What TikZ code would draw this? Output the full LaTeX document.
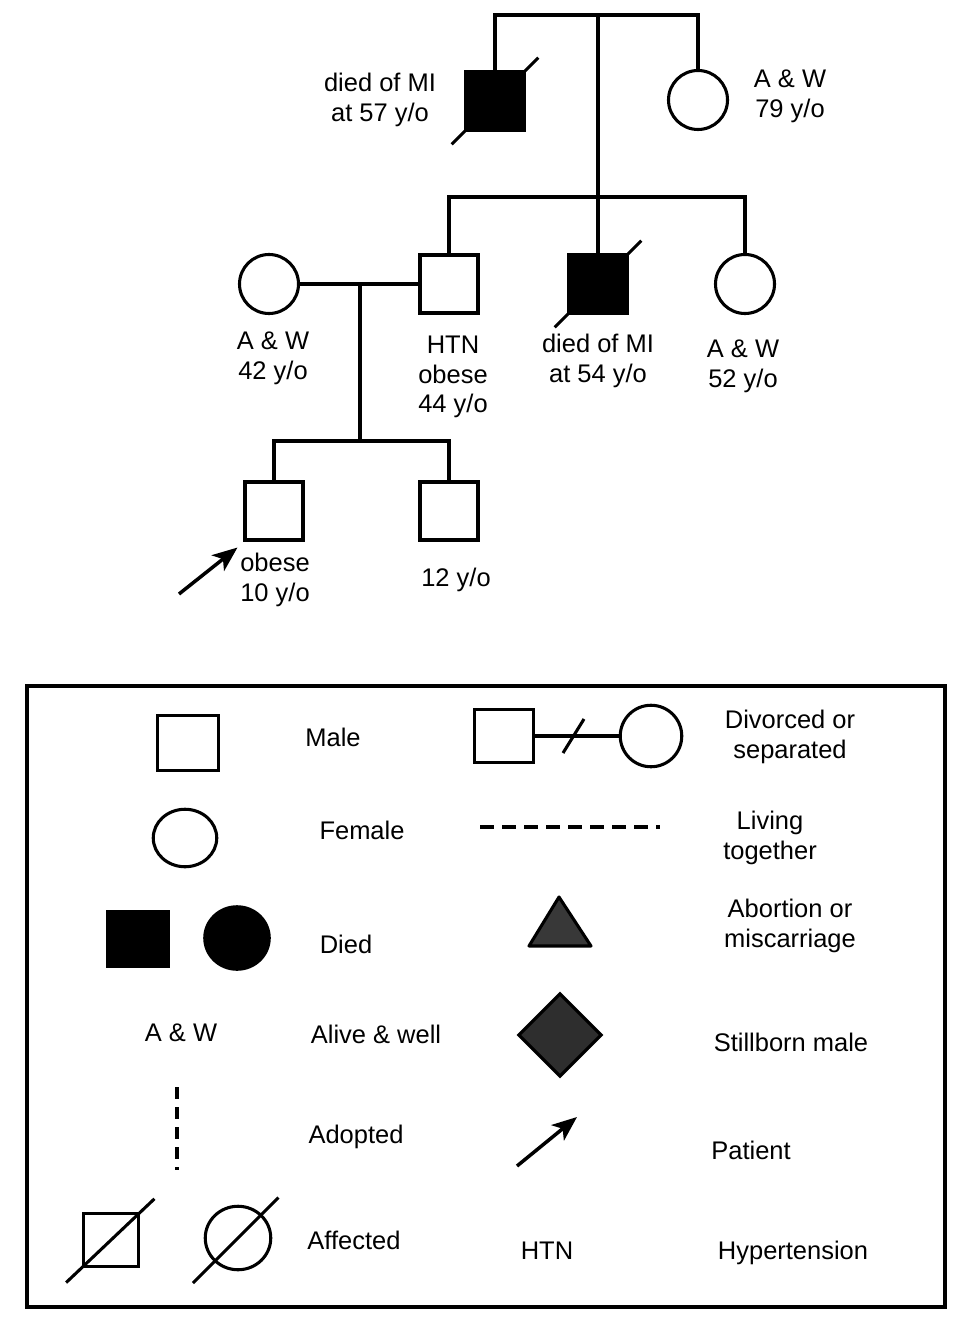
\documentclass[tikz,border=0pt]{standalone}
\usepackage{fontspec}
\setmainfont{Liberation Sans}
\usetikzlibrary{positioning,arrows,arrows.meta,shapes.geometric}

\begin{document}
\begin{tikzpicture}[x=0.2mm,y=-0.2mm,line width=1.75pt,
	every node/.style={font=\fontsize{14.5}{17}\selectfont},
	male/.style={draw,rectangle,minimum size=11.6mm,inner sep=0pt},
	female/.style={draw,ellipse,minimum size=11.8mm,inner sep=0pt},
	dead/.style={fill=black},
	txt/.style={align=center,inner sep=0pt},
	slash/.style={shorten <=-3.6mm,shorten >=-3.6mm},
	pointer/.style={line width=2pt,-{Stealth[length=5mm,width=4mm,inset=1.3mm]}}]
	\useasboundingbox (0,0) rectangle (958,1320);
	\node[male,dead] (gf) at (495,101) {};
	\node[female] (gm) at (698,100) {};
	\coordinate (mate) at (598,15);
	\draw (gf.north) |- (mate) -| (gm.north);
	\draw[slash] (gf.south west) -- (gf.north east);
	\node[txt] (gflbl) at (380,100) {died of MI\\at 57 y/o};
	\node[txt] (gmlbl) at (790,96) {A \& W\\79 y/o};
	\coordinate (sib1) at (598,197);
	\node[female] (mom) at (269,284) {};
	\node[male] (htn) at (449,284) {};
	\node[male,dead] (uncle) at (598,284) {};
	\node[female] (aunt) at (745,284) {};
	\draw (mate) -- (sib1) -- (uncle.north);
	\draw (htn.north) |- (sib1) -| (aunt.north);
	\draw[slash] (uncle.south west) -- (uncle.north east);
	\draw (mom) -- (htn);
	\node[txt] (momlbl) at (273,358) {A \& W\\42 y/o};
	\node[txt] (htnlbl) at (453,377) {HTN\\obese\\44 y/o};
	\node[txt] (unclelbl) at (598,361) {died of MI\\at 54 y/o};
	\node[txt] (auntlbl) at (743,366) {A \& W\\52 y/o};
	\coordinate (wed) at (360,284);
	\coordinate (sib2) at (360,441);
	\node[male] (pat) at (274,511) {};
	\node[male] (bro) at (449,511) {};
	\draw (wed) -- (sib2);
	\draw (pat.north) |- (sib2) -| (bro.north);
	\coordinate (ptail) at (179,594);
	\draw[pointer] (ptail) -- ([shift={(-6,6)}]pat.south west);
	\node[txt] (patlbl) at (275,580) {obese\\10 y/o};
	\node[txt] (brolbl) at (456,580) {12 y/o};
	\draw[line width=1.9pt] (27,686) rectangle (945,1307);
	\node[male,minimum width=12.1mm,minimum height=10.9mm] (lmale) at (188,743) {};
	\node[txt] at (333,737) {Male};
	\node[male,minimum width=11.7mm,minimum height=10.5mm] (ldm) at (504,736) {};
	\node[female,minimum size=12.3mm] (ldf) at (651,736) {};
	\draw (ldm) -- (ldf);
	\coordinate (ldmid) at (573,736);
	\draw ([shift={(-10,17)}]ldmid) -- ([shift={(11,-17)}]ldmid);
	\node[txt] at (790,737) {Divorced or\\separated};
	\node[female,minimum width=12.7mm,minimum height=11.5mm] (lfem) at (185,838) {};
	\node[txt] at (362,830) {Female};
	\coordinate (lt1) at (480,827);
	\coordinate (lt2) at (660,827);
	\draw[dash pattern=on 2.8mm off 1.6mm] (lt1) -- (lt2);
	\node[txt] at (770,838) {Living\\together};
	\node[male,dead,minimum width=12.1mm,minimum height=11.1mm] (ldsq) at (138,939) {};
	\node[female,dead,minimum width=12.9mm,minimum height=12.5mm] (ldci) at (237,938) {};
	\node[txt] at (346,944) {Died};
	\filldraw[fill=black!78,line join=round] (559,897) -- (591,946) -- (529,946) -- cycle;
	\node[txt] at (790,926) {Abortion or\\miscarriage};
	\node[txt] at (181,1033) {A \& W};
	\node[txt] at (376,1034) {Alive \& well};
	\node[draw,diamond,fill=black!82,minimum width=16.7mm,minimum height=16.7mm,inner sep=0pt] (lsb) at (560,1035) {};
	\node[txt] at (791,1042) {Stillborn male};
	\coordinate (la1) at (177,1087);
	\coordinate (la2) at (177,1170);
	\draw[dash pattern=on 2.4mm off 1.6mm] (la1) -- (la2);
	\node[txt] at (356,1137) {Adopted};
	\coordinate (lp1) at (517,1166);
	\coordinate (lp2) at (577,1117);
	\draw[pointer] (lp1) -- (lp2);
	\node[txt] at (751,1150) {Patient};
	\node[male,minimum width=11.1mm,minimum height=10.5mm] (lam) at (111,1240) {};
	\draw[shorten <=-4.3mm,shorten >=-3.9mm] (lam.south west) -- (lam.north east);
	\node[female,minimum width=13.1mm,minimum height=12.7mm] (laf) at (238,1238) {};
	\draw[shorten <=-6mm,shorten >=-4.7mm] (laf.225) -- (laf.45);
	\node[txt] at (354,1240) {Affected};
	\node[txt] at (547,1251) {HTN};
	\node[txt] at (793,1253) {Hypertension};
\end{tikzpicture}
\end{document}
